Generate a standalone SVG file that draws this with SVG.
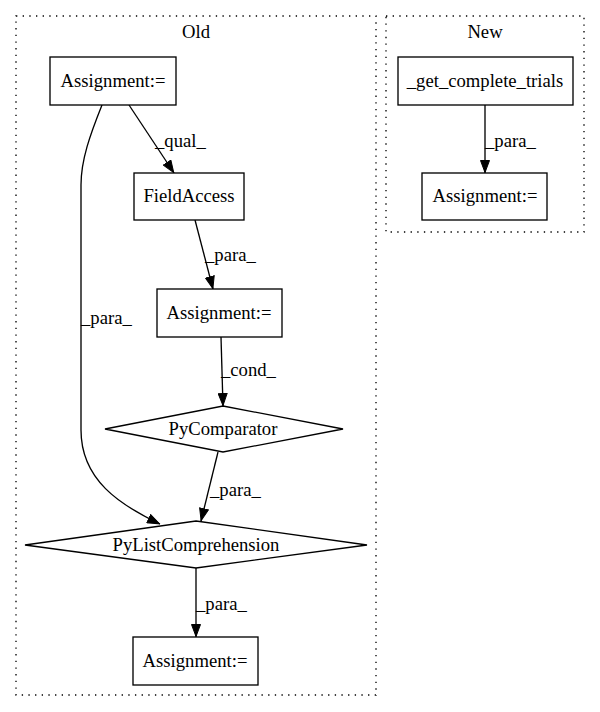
<svg xmlns="http://www.w3.org/2000/svg" width="600" height="712" viewBox="0 0 600 712">
<defs>
<marker id="ah" markerWidth="13" markerHeight="10" refX="13" refY="5" orient="auto" markerUnits="userSpaceOnUse">
<polygon points="0.5,0.5 12.5,5 0.5,9.5" fill="#000" stroke="#000"/>
</marker>
</defs>
<style>
text{font-family:"Liberation Serif","Times New Roman",serif;font-size:18.67px;fill:#000}
.c{text-anchor:middle}
.node{fill:#fff;stroke:#000;stroke-width:1.33}
.cl{fill:none;stroke:#000;stroke-width:1.33;stroke-dasharray:1.33,5.33}
.e{fill:none;stroke:#000;stroke-width:1.33;marker-end:url(#ah)}
</style>
<rect width="600" height="712" fill="#fff"/>
<g id="cluster_old"><rect class="cl" x="16" y="16" width="360" height="679"/><text class="c" x="196" y="38">Old</text></g>
<g id="cluster_new"><rect class="cl" x="386" y="16" width="198" height="216"/><text class="c" x="485" y="38">New</text></g>
<g id="connectors">
<path class="e" d="M129,105 L174,173"/>
<text x="155" y="147">_qual_</text>
<path class="e" d="M102,105 C90,135 81,160 81,185 L81,430 C81,480 120,505 160,524"/>
<text x="81" y="324">_para_</text>
<path class="e" d="M195,220 L213,289"/>
<text x="205" y="261">_para_</text>
<path class="e" d="M221,337 L223,406"/>
<text x="221" y="376">_cond_</text>
<path class="e" d="M218,452 L201,521"/>
<text x="210" y="496">_para_</text>
<path class="e" d="M196,568 L196,637"/>
<text x="196" y="610">_para_</text>
<path class="e" d="M485,105 L485,173"/>
<text x="485" y="147">_para_</text>
</g>
<g id="n1"><rect class="node" x="50" y="57" width="126" height="48"/><text class="c" x="113" y="87">Assignment:=</text></g>
<g id="n2"><rect class="node" x="134" y="173" width="110" height="47"/><text class="c" x="189" y="202">FieldAccess</text></g>
<g id="n3"><rect class="node" x="157" y="289" width="125" height="48"/><text class="c" x="219" y="319">Assignment:=</text></g>
<g id="n4"><polygon class="node" points="223,406 343,429 223,452 105,429"/><text class="c" x="223" y="435">PyComparator</text></g>
<g id="n5"><polygon class="node" points="196,521 367,545 196,568 25,545"/><text class="c" x="196" y="551">PyListComprehension</text></g>
<g id="n6"><rect class="node" x="133" y="637" width="125" height="48"/><text class="c" x="195" y="667">Assignment:=</text></g>
<g id="n7"><rect class="node" x="398" y="57" width="175" height="48"/><text class="c" x="485" y="87">_get_complete_trials</text></g>
<g id="n8"><rect class="node" x="422" y="173" width="125" height="47"/><text class="c" x="485" y="202">Assignment:=</text></g>
</svg>
